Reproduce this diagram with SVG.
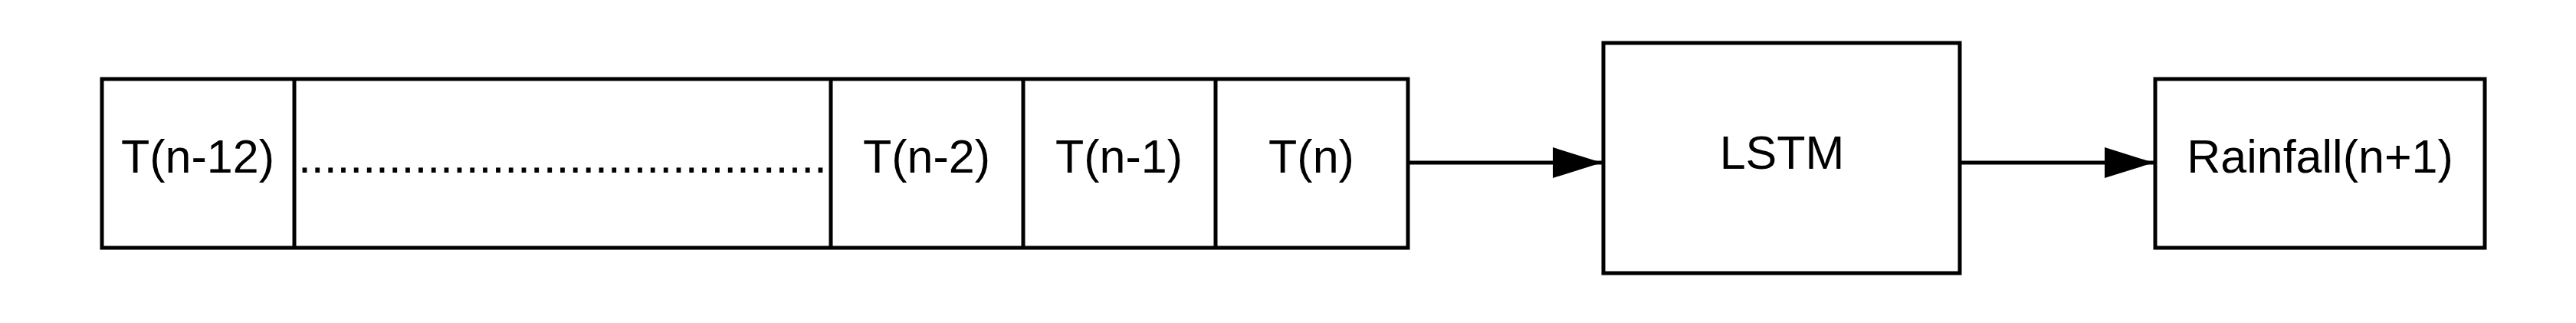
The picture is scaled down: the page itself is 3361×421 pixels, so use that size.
<svg xmlns="http://www.w3.org/2000/svg" width="3361" height="421" viewBox="0 0 3361 421">
<style>
.b{fill:#fff;stroke:#000;stroke-width:5}
.l{stroke:#000;stroke-width:5}
.t{font-family:"Liberation Sans",Arial,sans-serif;font-size:61px;fill:#000;text-anchor:middle}
</style>
<defs><marker id="a" markerUnits="userSpaceOnUse" markerWidth="66" markerHeight="44" refX="64" refY="22" orient="auto"><path d="M0,2 L64,22 L0,42 Z" fill="#000"/></marker></defs>
<rect width="3361" height="421" fill="#fff"/>
<g id="sequence">
<rect class="b" x="133" y="103" width="1704" height="220"/>
<line class="l" x1="384" y1="103" x2="384" y2="323"/>
<line class="l" x1="1084" y1="103" x2="1084" y2="323"/>
<line class="l" x1="1335" y1="103" x2="1335" y2="323"/>
<line class="l" x1="1586" y1="103" x2="1586" y2="323"/>
<text class="t" x="258" y="225">T(n-12)</text>
<text class="t" x="734" y="225" textLength="690" lengthAdjust="spacing">.........................................</text>
<text class="t" x="1209" y="225">T(n-2)</text>
<text class="t" x="1460" y="225">T(n-1)</text>
<text class="t" x="1711" y="225">T(n)</text>
</g>
<g id="lstm"><rect class="b" x="2092" y="56" width="465" height="300"/><text class="t" x="2325" y="220">LSTM</text></g>
<g id="rainfall"><rect class="b" x="2812" y="103" width="430" height="220"/><text class="t" x="3027" y="225">Rainfall(n+1)</text></g>
<g id="connectors">
<line class="l" x1="1839" y1="212" x2="2090" y2="212" marker-end="url(#a)"/>
<line class="l" x1="2559" y1="212" x2="2810" y2="212" marker-end="url(#a)"/>
</g>
</svg>
